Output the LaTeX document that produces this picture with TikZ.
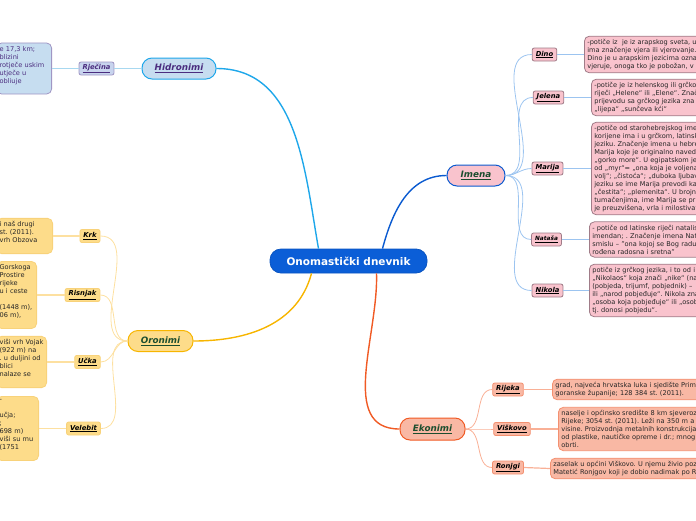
\documentclass[tikz,border=0pt]{standalone}
\usepackage{xcolor}
\usepackage{fontspec}
\setmainfont{DejaVu Sans}[ItalicFont={DejaVu Sans Oblique},BoldItalicFont={DejaVu Sans Bold Oblique}]
\usepackage{tikz}
\usetikzlibrary{calc}
\frenchspacing

\definecolor{rootblue}{RGB}{11,94,215}
\definecolor{hidline}{RGB}{30,167,234}
\definecolor{hidfill}{RGB}{198,221,240}
\definecolor{hidleaf}{RGB}{200,212,238}
\definecolor{hidedge}{RGB}{160,150,196}
\definecolor{hidtext}{RGB}{75,45,127}
\definecolor{hidthin}{RGB}{168,216,240}
\definecolor{imeline}{RGB}{10,90,208}
\definecolor{imefill}{RGB}{249,195,205}
\definecolor{imeedge}{RGB}{160,124,136}
\definecolor{imethin}{RGB}{156,196,240}
\definecolor{oroline}{RGB}{247,181,0}
\definecolor{orofill}{RGB}{253,220,138}
\definecolor{oroedge}{RGB}{248,210,122}
\definecolor{orothin}{RGB}{253,224,160}
\definecolor{ekoline}{RGB}{240,90,36}
\definecolor{ekofill}{RGB}{249,184,164}
\definecolor{ekoedge}{RGB}{243,144,112}
\definecolor{ekothin}{RGB}{249,176,150}
\definecolor{topictext}{RGB}{27,77,46}

\begin{document}
\begin{tikzpicture}[x=1pt,y=1pt,
  root/.style={draw=rootblue!90!black,fill=rootblue,text=white,rounded corners=11pt,line width=0.8pt,
    minimum width=157pt,minimum height=24pt,font=\fontsize{10.5}{12}\selectfont\bfseries},
  topic/.style={rounded corners=10pt,line width=1pt,minimum height=21pt,
    font=\fontsize{8.8}{10}\selectfont\bfseries\itshape},
  leaf/.style={rounded corners=2pt,line width=0.8pt,minimum height=13pt,inner xsep=3.5pt,inner ysep=1pt,
    font=\fontsize{6.8}{8}\selectfont\bfseries\itshape},
  note/.style={rounded corners=5pt,line width=0.8pt,align=left,inner sep=3pt,text=black!85,
    font=\fontsize{6.6}{8}\selectfont,text width=150pt},
  trunk/.style={line width=1.4pt},
  twig/.style={line width=0.8pt},
  stalk/.style={line width=1.2pt}]

  \path[use as bounding box] (0,0) rectangle (696,-520);
  \clip (0,0) rectangle (696,-520);

  % centre
  \node[root] (cen) at (348.5,-261) {Onomastički dnevnik};

  % Hidronimi
  \node[topic,draw=hidline,fill=hidfill,text=hidtext,minimum width=74pt] (hid) at (179,-68.5) {\underline{Hidronimi}};
  \node[leaf,draw=hidedge,fill=hidleaf,text=hidtext] (rjecina) at (96.5,-68.5) {\underline{Rječina}};
  \node[note,draw=hidedge,fill=hidfill,text=hidtext,text width=49pt,anchor=east] (rjecinanote) at (52,-68.5)
    {e 17,3 km;\\blizini\\rotječe uskim\\utječe u\\obliuje\\\mbox{}};

  % Imena
  \node[topic,draw=imeline,fill=imefill,text=topictext,minimum width=58pt] (ime) at (476,-175.5) {\underline{Imena}};
  \node[leaf,draw=imeedge,fill=imefill] (dino) at (544.5,-54.5) {\underline{Dino}};
  \node[leaf,draw=imeedge,fill=imefill] (jelena) at (548.5,-97.5) {\underline{Jelena}};
  \node[leaf,draw=imeedge,fill=imefill] (marija) at (547.5,-168.5) {\underline{Marija}};
  \node[leaf,draw=imeedge,fill=imefill,font=\fontsize{5.8}{7}\selectfont\bfseries\itshape] (natasa) at (546.5,-239.5) {\underline{Nataša}};
  \node[leaf,draw=imeedge,fill=imefill] (nikola) at (547.5,-290.5) {\underline{Nikola}};

  \node[note,draw=imeedge,fill=imefill,anchor=west] (dinonote) at (584,-54.5)
    {-potiče iz\ \ je iz arapskog sveta, u\\ima značenje vjera ili vjerovanje.\\Dino je u arapskim jezicima ozna\\vjeruje, onoga tko je pobožan, v};
  \node[note,draw=imeedge,fill=imefill,anchor=west] (jelenanote) at (591,-97.5)
    {-potiče je iz helenskog ili grčko\\riječi „Helene“ ili „Elene“. Znač\\prijevodu sa grčkog jezika zna\\„lijepa“ „sunčeva kći“};
  \node[note,draw=imeedge,fill=imefill,anchor=west] (marijanote) at (591,-168.5)
    {-potiče od starohebrejskog ime\\korijene ima i u grčkom, latinsk\\jeziku. Značenje imena u hebre\\Marija koje je originalno naved\\„gorko more“. U egipatskom je\\od „myr“= „ona koja je voljena\\volj“; „čistoća“; „duboka ljubav\\jeziku se ime Marija prevodi ka\\„čestita“; „plemenita“. U brojni\\tumačenjima, ime Marija se pr\\je preuzvišena, vrla i milostiva“};
  \node[note,draw=imeedge,fill=imefill,anchor=west] (natasanote) at (589,-239.5)
    {- potiče od latinske riječi natalis\\imendan; . Značenje imena Nat\\smislu – "ona kojoj se Bog radu\\rođena radosna i sretna"};
  \node[note,draw=imeedge,fill=imefill,anchor=west] (nikolanote) at (589,-290.5)
    {potiče iz grčkog jezika, i to od i\\„Nikolaos“ koja znači „nike“ (na\\(pobjeda, trijumf, pobjednik) –\\ili „narod pobjeđuje“. Nikola zna\\„osoba koja pobjeđuje“ ili „osob\\tj. donosi pobjedu“.};

  % Oronimi
  \node[topic,draw=oroline,fill=orofill,text=topictext,minimum width=65pt] (oro) at (160.5,-341) {\underline{Oronimi}};
  \node[leaf,draw=oroedge,fill=orofill] (krk) at (90,-236) {\underline{Krk}};
  \node[leaf,draw=oroedge,fill=orofill] (risnjak) at (82.5,-295) {\underline{Risnjak}};
  \node[leaf,draw=oroedge,fill=orofill] (ucka) at (87.5,-362) {\underline{Učka}};
  \node[leaf,draw=oroedge,fill=orofill] (velebit) at (83.5,-428.5) {\underline{Velebit}};

  \node[note,draw=oroedge,fill=orofill,text width=50pt,anchor=east] (krknote) at (53,-236)
    {i naš drugi\\st. (2011).\\vrh Obzova\\\mbox{}};
  \node[note,draw=oroedge,fill=orofill,text width=34pt,anchor=east] (risnjaknote) at (37,-295)
    {Gorskoga\\Prostire\\rijeke\\u i ceste\\\mbox{}\\(1448 m),\\06 m),\\\mbox{}};
  \node[note,draw=oroedge,fill=orofill,text width=44pt,anchor=east] (uckanote) at (47,-362)
    {viši vrh Vojak\\(922 m) na\\. u duljini od\\blici\\nalaze se\\\mbox{}};
  \node[note,draw=oroedge,fill=orofill,text width=36pt,anchor=east] (velebitnote) at (39,-428.5)
    {-\\\mbox{}\\učja;\\;\\698 m)\\viši su mu\\(1751\\\mbox{}};

  % Ekonimi
  \node[topic,draw=ekoline,fill=ekofill,text=topictext,minimum width=65pt,minimum height=22pt] (eko) at (432.5,-429) {\underline{Ekonimi}};
  \node[leaf,draw=ekoedge,fill=ekofill] (rijeka) at (508,-389.5) {\underline{Rijeka}};
  \node[leaf,draw=ekoedge,fill=ekofill] (viskovo) at (512,-429) {\underline{Viškovo}};
  \node[leaf,draw=ekoedge,fill=ekofill] (ronjgi) at (508,-467.5) {\underline{Ronjgi}};

  \node[note,draw=ekoedge,fill=ekofill,anchor=west] (rijekanote) at (552,-389.5)
    {grad, najveća hrvatska luka i sjedište Prim\\goranske županije; 128 384 st. (2011).};
  \node[note,draw=ekoedge,fill=ekofill,anchor=west,text width=180pt] (viskovonote) at (558,-429)
    {naselje i općinsko središte 8 km sjeveroz\\Rijeke; 3054 st. (2011). Leži na 350 m a\\visine. Proizvodnja metalnih konstrukcija\\od plastike, nautičke opreme i dr.; mnog\\obrti.};
  \node[note,draw=ekoedge,fill=ekofill,anchor=west,text width=180pt] (ronjginote) at (550,-468.5)
    {zaselak u općini Viškovo. U njemu živio poz\\Matetić Ronjgov koji je dobio nadimak po R};

  % main branches
  \draw[trunk,hidline] ([xshift=-30pt]cen.north) to[out=100,in=0] (hid.east);
  \draw[trunk,imeline] ([xshift=34pt]cen.north) to[out=75,in=180] (ime.west);
  \draw[trunk,oroline] ([xshift=-37pt]cen.south) to[out=-105,in=0] (oro.east);
  \draw[trunk,ekoline] ([xshift=28pt]cen.south) to[out=-88,in=180] (eko.west);

  % sub branches
  \draw[stalk,hidthin] (hid.west) -- (rjecina.east);
  \draw[stalk,hidthin] (rjecina.west) -- (rjecinanote.east);
  \foreach \n in {dino,jelena,marija,natasa,nikola}{
    \draw[twig,imethin] (ime.east) to[out=0,in=180] (\n.west);
    \draw[stalk,imethin] (\n.east) -- (\n note.west);
  }
  \foreach \n in {krk,risnjak,ucka,velebit}{
    \draw[twig,orothin] (oro.west) to[out=180,in=0] (\n.east);
    \draw[stalk,orothin] (\n.west) -- (\n note.east);
  }
  \foreach \n in {rijeka,viskovo,ronjgi}{
    \draw[twig,ekothin] (eko.east) to[out=0,in=180] (\n.west);
    \draw[stalk,ekothin] (\n.east) -- (\n note.west);
  }
\end{tikzpicture}
\end{document}
